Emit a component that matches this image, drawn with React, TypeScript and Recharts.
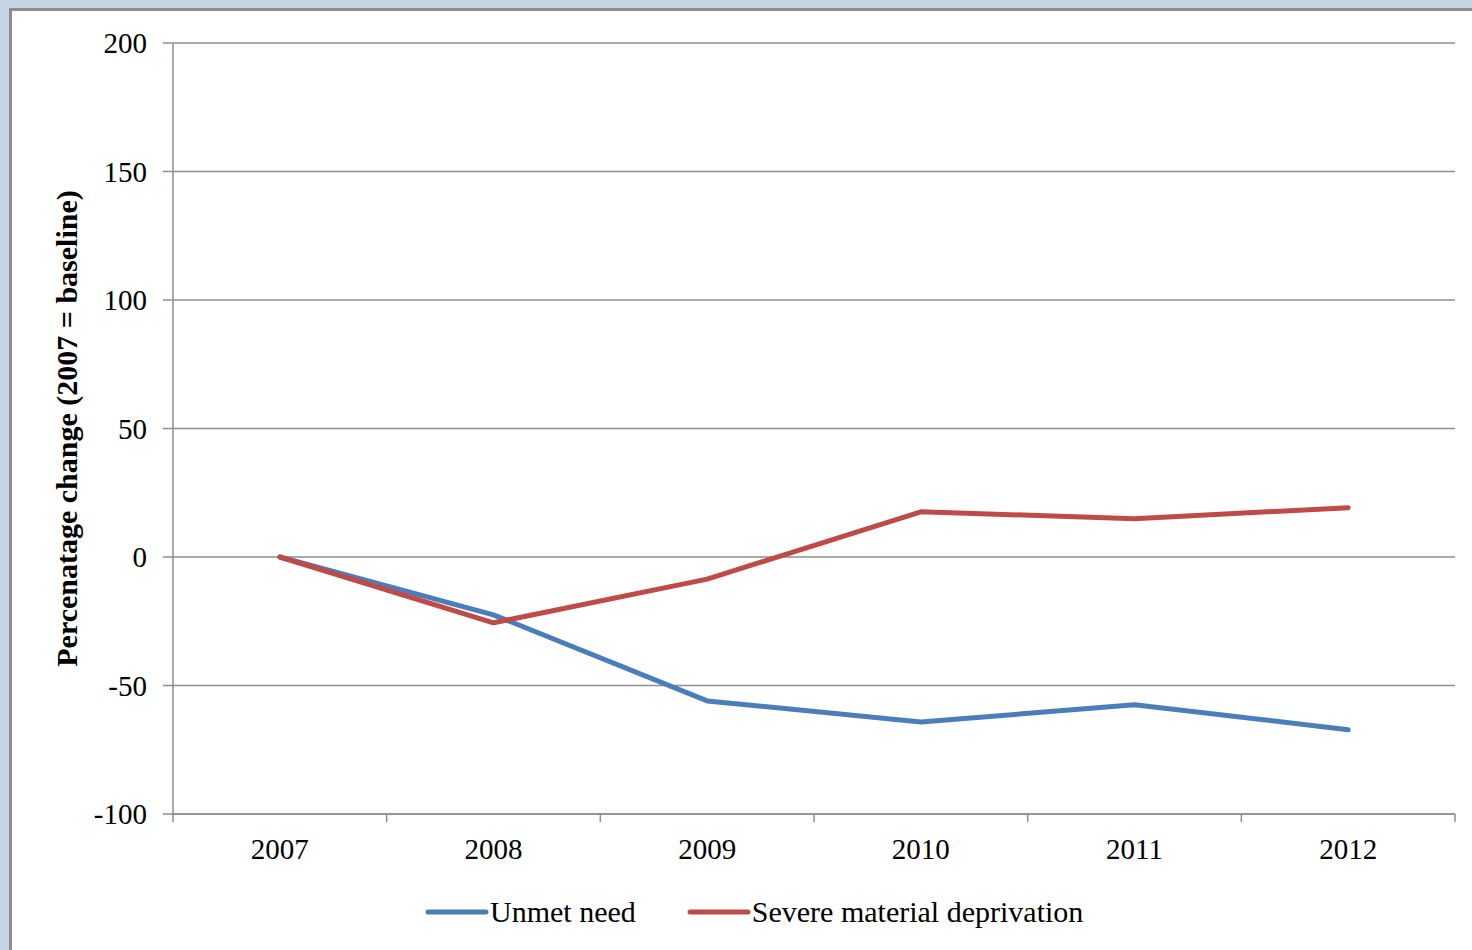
import React from "react";
import { LineChart, Line, XAxis, YAxis, CartesianGrid } from "recharts";

// ---- data ----
const YEARS = ["2007", "2008", "2009", "2010", "2011", "2012"];
const UNMET_NEED = [0, -22.5, -56, -64.2, -57.5, -67.2];
const SEVERE_DEPRIVATION = [0, -25.6, -8.6, 17.6, 14.9, 19.2];
const Y_TICKS = [-100, -50, 0, 50, 100, 150, 200];

const SERIES = [
  { key: "unmet", name: "Unmet need", color: "#4a7ebb", values: UNMET_NEED },
  { key: "severe", name: "Severe material deprivation", color: "#be4b48", values: SEVERE_DEPRIVATION },
];

const rows = YEARS.map((year, i) => ({
  year,
  unmet: UNMET_NEED[i],
  severe: SEVERE_DEPRIVATION[i],
}));

// ---- layout ----
const W = 1472;
const H = 950;
const MARGIN = { top: 43, right: 17, left: 0, bottom: 0 };
const Y_AXIS_W = 173;
const X_AXIS_H = 136;
const PLOT_W = W - MARGIN.left - MARGIN.right - Y_AXIS_W;
const BAND = PLOT_W / YEARS.length;

const FONT = "'Liberation Serif', 'Times New Roman', serif";
const GRID = "#8e8e8e";
const TICK_LEN = 8;

function YearTick(props: any) {
  const { x, y, payload, index } = props;
  const axisY = y - TICK_LEN;
  const left = x - BAND / 2;
  const right = x + BAND / 2;
  return (
    <g>
      <line x1={left} x2={left} y1={axisY} y2={axisY + TICK_LEN} stroke={GRID} strokeWidth={1.5} />
      {index === YEARS.length - 1 && (
        <line x1={right} x2={right} y1={axisY} y2={axisY + TICK_LEN} stroke={GRID} strokeWidth={1.5} />
      )}
      <text x={x} y={axisY + 45} textAnchor="middle" fill="#000" fontSize={29} fontFamily={FONT}>
        {payload.value}
      </text>
    </g>
  );
}

function YTitle(props: any) {
  const vb = props.viewBox || {};
  const cy = vb.y + vb.height / 2;
  return (
    <text
      transform={`translate(77, ${cy}) rotate(-90)`}
      textAnchor="middle"
      fill="#000"
      fontSize={30}
      fontWeight="bold"
      fontFamily={FONT}
    >
      Percenatage change (2007 = baseline)
    </text>
  );
}

function LegendRow() {
  return (
    <div
      style={{
        position: "absolute",
        left: 425,
        top: 893,
        height: 38,
        display: "flex",
        alignItems: "center",
        fontFamily: FONT,
        fontSize: 30,
        color: "#000",
        whiteSpace: "nowrap",
      }}
    >
      {SERIES.map((s, i) => (
        <div key={s.key} style={{ display: "flex", alignItems: "center", marginLeft: i === 0 ? 0 : 51 }}>
          <svg width={64} height={10} style={{ display: "block" }}>
            <line x1={3} x2={61} y1={5} y2={5} stroke={s.color} strokeWidth={5} strokeLinecap="round" />
          </svg>
          <span style={{ marginLeft: 1, lineHeight: "38px" }}>{s.name}</span>
        </div>
      ))}
    </div>
  );
}

export default function App() {
  return (
    <div
      style={{
        position: "absolute",
        left: 0,
        top: 0,
        width: W,
        height: H,
        background: "#c6d4e3",
        overflow: "hidden",
      }}
    >
      <div
        style={{
          position: "absolute",
          left: 9,
          top: 8,
          width: W + 20,
          height: H + 20,
          background: "#ffffff",
          border: "3px solid #8d8d8d",
        }}
      />
      <div style={{ position: "absolute", left: 0, top: 0 }}>
        <LineChart width={W} height={H} data={rows} margin={MARGIN}>
          <CartesianGrid vertical={false} stroke={GRID} strokeWidth={1.5} />
          <XAxis
            dataKey="year"
            scale="band"
            interval={0}
            height={X_AXIS_H}
            axisLine={{ stroke: GRID, strokeWidth: 1.5 }}
            tickLine={false}
            tickSize={TICK_LEN}
            tickMargin={0}
            tick={<YearTick />}
          />
          <YAxis
            width={Y_AXIS_W}
            domain={[-100, 200]}
            ticks={Y_TICKS}
            interval={0}
            allowDataOverflow
            axisLine={{ stroke: GRID, strokeWidth: 1.5 }}
            tickLine={{ stroke: GRID, strokeWidth: 1.5 }}
            tickSize={10}
            tickMargin={16}
            tick={{ fill: "#000", fontSize: 29, fontFamily: FONT }}
            label={<YTitle />}
          />
          {SERIES.map((s) => (
            <Line
              key={s.key}
              type="linear"
              dataKey={s.key}
              name={s.name}
              stroke={s.color}
              strokeWidth={5}
              strokeLinejoin="round"
              strokeLinecap="round"
              dot={false}
              activeDot={false}
              isAnimationActive={false}
            />
          ))}
        </LineChart>
      </div>
      <LegendRow />
    </div>
  );
}
